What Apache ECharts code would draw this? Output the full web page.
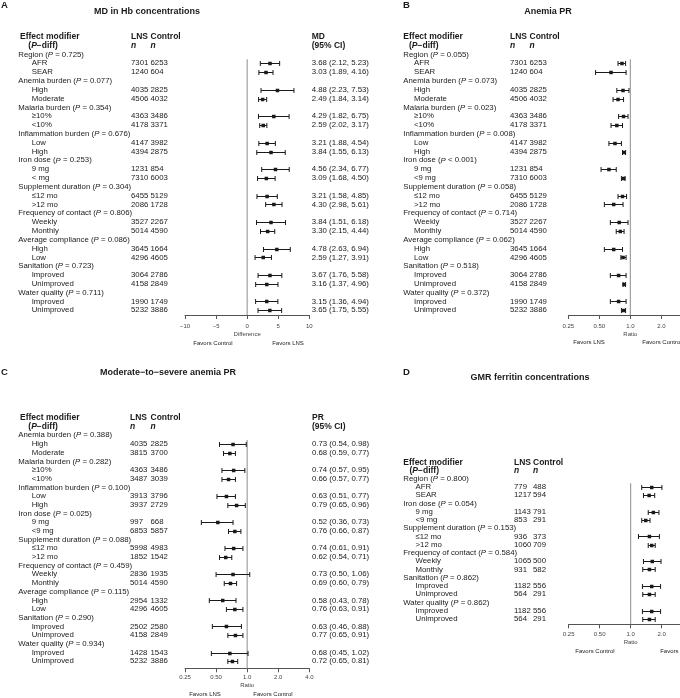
<!DOCTYPE html>
<html>
<head>
<meta charset="utf-8">
<script src="https://cdn.jsdelivr.net/npm/echarts@6/dist/echarts.min.js"></script>
<style>
  html, body { margin: 0; padding: 0; background: #fff; }
  #main { width: 680px; height: 698px; }
</style>
</head>
<body>
<div id="main"></div>
<script>
// ---------- data ----------
// A: MD in Hb concentrations
const aGroups = ['Region', 'Anemia burden', 'Malaria burden', 'Inflammation burden', 'Iron dose', 'Supplement duration', 'Frequency of contact', 'Average compliance', 'Sanitation', 'Water quality'];
const aPvals = ['= 0.725', '= 0.077', '= 0.354', '= 0.676', '= 0.253', '= 0.304', '= 0.806', '= 0.086', '= 0.723', '= 0.711'];
const aSubs = ['AFR', 'SEAR', 'High', 'Moderate', '≥10%', '<10%', 'Low', 'High', '9 mg', '< mg', '≤12 mo', '>12 mo', 'Weekly', 'Monthly', 'High', 'Low', 'Improved', 'Unimproved', 'Improved', 'Unimproved'];
const aLns = [7301, 1240, 4035, 4506, 4363, 4178, 4147, 4394, 1231, 7310, 6455, 2086, 3527, 5014, 3645, 4296, 3064, 4158, 1990, 5232];
const aCtrl = [6253, 604, 2825, 4032, 3486, 3371, 3982, 2875, 854, 6003, 5129, 1728, 2267, 4590, 1664, 4605, 2786, 2849, 1749, 3886];
const aEst = [3.68, 3.03, 4.88, 2.49, 4.29, 2.59, 3.21, 3.84, 4.56, 3.09, 3.21, 4.30, 3.84, 3.30, 4.78, 2.59, 3.67, 3.16, 3.15, 3.65];
const aLo = [2.12, 1.89, 2.23, 1.84, 1.82, 2.02, 1.88, 1.55, 2.34, 1.68, 1.58, 2.98, 1.51, 2.15, 2.63, 1.27, 1.76, 1.37, 1.36, 1.75];
const aHi = [5.23, 4.16, 7.53, 3.14, 6.75, 3.17, 4.54, 6.13, 6.77, 4.50, 4.85, 5.61, 6.18, 4.44, 6.94, 3.91, 5.58, 4.96, 4.94, 5.55];

// B: Anemia PR
const bGroups = aGroups;
const bPvals = ['= 0.055', '= 0.073', '= 0.023', '= 0.008', '< 0.001', '= 0.058', '= 0.714', '= 0.062', '= 0.518', '= 0.372'];
const bSubs = ['AFR', 'SEAR', 'High', 'Moderate', '≥10%', '<10%', 'Low', 'High', '9 mg', '<9 mg', '≤12 mo', '>12 mo', 'Weekly', 'Monthly', 'High', 'Low', 'Improved', 'Unimproved', 'Improved', 'Unimproved'];
const bLns = [7301, 1240, 4035, 4506, 4363, 4178, 4147, 4394, 1231, 7310, 6455, 2086, 3527, 5014, 3645, 4296, 3064, 4158, 1990, 5232];
const bCtrl = [6253, 604, 2825, 4032, 3486, 3371, 3982, 2875, 854, 6003, 5129, 1728, 2267, 4590, 1664, 4605, 2786, 2849, 1749, 3886];
const bEst = [0.83, 0.65, 0.85, 0.76, 0.86, 0.74, 0.71, 0.87, 0.62, 0.86, 0.84, 0.69, 0.78, 0.80, 0.69, 0.85, 0.77, 0.87, 0.77, 0.86];
const bLo = [0.76, 0.46, 0.74, 0.68, 0.77, 0.65, 0.62, 0.84, 0.52, 0.82, 0.76, 0.56, 0.64, 0.73, 0.56, 0.81, 0.64, 0.85, 0.64, 0.82];
const bHi = [0.90, 0.91, 0.97, 0.86, 0.95, 0.84, 0.82, 0.90, 0.73, 0.89, 0.92, 0.85, 0.95, 0.87, 0.84, 0.91, 0.91, 0.90, 0.91, 0.90];

// C: Moderate-to-severe anemia PR
const cGroups = ['Anemia burden', 'Malaria burden', 'Inflammation burden', 'Iron dose', 'Supplement duration', 'Frequency of contact', 'Average compliance', 'Sanitation', 'Water quality'];
const cPvals = ['= 0.388', '= 0.282', '= 0.100', '= 0.025', '= 0.088', '= 0.459', '= 0.115', '= 0.290', '= 0.934'];
const cSubs = ['High', 'Moderate', '≥10%', '<10%', 'Low', 'High', '9 mg', '<9 mg', '≤12 mo', '>12 mo', 'Weekly', 'Monthly', 'High', 'Low', 'Improved', 'Unimproved', 'Improved', 'Unimproved'];
const cLns = [4035, 3815, 4363, 3487, 3913, 3937, 997, 6853, 5998, 1852, 2836, 5014, 2954, 4296, 2502, 4158, 1428, 5232];
const cCtrl = [2825, 3700, 3486, 3039, 3796, 2729, 668, 5857, 4983, 1542, 1935, 4590, 1332, 4605, 2580, 2849, 1543, 3886];
const cEst = [0.73, 0.68, 0.74, 0.66, 0.63, 0.79, 0.52, 0.76, 0.74, 0.62, 0.73, 0.69, 0.58, 0.76, 0.63, 0.77, 0.68, 0.72];
const cLo = [0.54, 0.59, 0.57, 0.57, 0.51, 0.65, 0.36, 0.66, 0.61, 0.54, 0.50, 0.60, 0.43, 0.63, 0.46, 0.65, 0.45, 0.65];
const cHi = [0.98, 0.77, 0.95, 0.77, 0.77, 0.96, 0.73, 0.87, 0.91, 0.71, 1.06, 0.79, 0.78, 0.91, 0.88, 0.91, 1.02, 0.81];

// D: GMR ferritin concentrations
const dGroups = ['Region', 'Iron dose', 'Supplement duration', 'Frequency of contact', 'Sanitation', 'Water quality'];
const dPvals = ['= 0.800', '= 0.054', '= 0.153', '= 0.584', '= 0.862', '= 0.862'];
const dSubs = ['AFR', 'SEAR', '9 mg', '<9 mg', '≤12 mo', '>12 mo', 'Weekly', 'Monthly', 'Improved', 'Unimproved', 'Improved', 'Unimproved'];
const dLns = [779, 1217, 1143, 853, 936, 1060, 1065, 931, 1182, 564, 1182, 564];
const dCtrl = [488, 594, 791, 291, 373, 709, 500, 582, 556, 291, 556, 291];
const dEst = [1.60, 1.51, 1.66, 1.40, 1.52, 1.60, 1.62, 1.52, 1.60, 1.52, 1.60, 1.52];
const dLo = [1.28, 1.33, 1.48, 1.28, 1.19, 1.48, 1.33, 1.31, 1.30, 1.31, 1.30, 1.31];
const dHi = [2.01, 1.71, 1.88, 1.54, 1.90, 1.73, 1.97, 1.73, 1.95, 1.73, 1.95, 1.73];

// axis ticks
const diffTicks = [-10, -5, 0, 5, 10];
const ratioTicks = [0.25, 0.5, 1, 2, 4];
const ratioTickLabels = ['0.25', '0.50', '1.0', '2.0', '4.0'];

// ---------- style ----------
const FONT = '"Liberation Sans", Arial, Helvetica, sans-serif';
const INK = '#1a1a1a';
const RICH = {
  i: {fontStyle: 'italic', fontSize: 7.8, fontFamily: FONT, fill: INK},
  bi: {fontStyle: 'italic', fontWeight: 'bold', fontSize: 8.5, fontFamily: FONT, fill: INK}
};

// 每个面板的位置
const lay = {
  A: {rowTop: 54.5, step: 8.82, axisY: 315, left: 185, width: 124.3, labX: 18.3, subX: 31.7, headX: 20, pdX: 28.3, lnsX: 131, ctrlX: 150.5, ciX: 311.7, nameGap: 16, labMargin: 8},
  B: {rowTop: 54.5, step: 8.82, axisY: 315, left: 568.3, width: 124, labX: 403.3, subX: 414, headX: 403.3, pdX: 409, lnsX: 510, ctrlX: 529.5, ciX: null, nameGap: 16, labMargin: 8},
  C: {rowTop: 435.3, step: 8.69, axisY: 668.3, left: 185, width: 124.3, labX: 18.3, subX: 31.7, headX: 20, pdX: 28.3, lnsX: 130, ctrlX: 150.5, ciX: 312, nameGap: 14, labMargin: 6},
  D: {rowTop: 478.7, step: 8.25, axisY: 624.3, left: 568.7, width: 124, labX: 403.3, subX: 415.5, headX: 403.3, pdX: 409.5, lnsX: 514, ctrlX: 533, ciX: null, nameGap: 15, labMargin: 7}
};

const fmt = v => v.toFixed(2);

// 把分组数据拼成行
function buildRows(groups, pvals, subs, lns, ctrl, est, lo, hi) {
  const text = [], bars = [];
  let r = 0;
  groups.forEach((g, gi) => {
    text.push({row: r, kind: 'group', label: g + ' ({i|P} ' + pvals[gi] + ')'});
    r++;
    for (let k = 0; k < 2; k++) {
      const j = gi * 2 + k;
      text.push({row: r, kind: 'sub', label: subs[j], lns: String(lns[j]), ctrl: String(ctrl[j]),
        ci: fmt(est[j]) + ' (' + fmt(lo[j]) + ', ' + fmt(hi[j]) + ')'});
      bars.push([est[j], lo[j], hi[j], r]);
      r++;
    }
  });
  return {text, bars};
}

const panels = [
  {key: 'A', log: false, ref: 0, head: ['MD', '(95% CI)'], axisName: 'Difference',
    rows: buildRows(aGroups, aPvals, aSubs, aLns, aCtrl, aEst, aLo, aHi)},
  {key: 'B', log: true, ref: 1, head: ['PR', '(95% CI)'], axisName: 'Ratio',
    rows: buildRows(bGroups, bPvals, bSubs, bLns, bCtrl, bEst, bLo, bHi)},
  {key: 'C', log: true, ref: 1, head: ['PR', '(95% CI)'], axisName: 'Ratio',
    rows: buildRows(cGroups, cPvals, cSubs, cLns, cCtrl, cEst, cLo, cHi)},
  {key: 'D', log: true, ref: 1, head: ['GMR', '(95% CI)'], axisName: 'Ratio',
    rows: buildRows(dGroups, dPvals, dSubs, dLns, dCtrl, dEst, dLo, dHi)}
];

function txtEl(x, y, text, font) {
  return {
    type: 'text',
    style: {x: x, y: y, text: text, font: font, fill: INK, align: 'left', verticalAlign: 'middle', rich: RICH}
  };
}

const rowFont = 'normal 7.8px ' + FONT;
const headFont = 'bold 8.5px ' + FONT;

const grid = [], xAxis = [], yAxis = [], series = [];

panels.forEach((p, pi) => {
  const L = lay[p.key];
  const top = L.rowTop - 2.5 * L.step;
  const yMax = (L.axisY - L.rowTop) / L.step;
  grid.push({left: L.left, width: L.width, top: top, height: L.axisY - top, outerBoundsMode: 'none', containLabel: false});

  const xa = {
    gridIndex: pi,
    type: p.log ? 'log' : 'value',
    min: p.log ? ratioTicks[0] : diffTicks[0],
    max: p.log ? ratioTicks[ratioTicks.length - 1] : diffTicks[diffTicks.length - 1],
    axisLine: {show: true, onZero: false, lineStyle: {color: '#555', width: 1}},
    axisTick: {show: true, length: 4, lineStyle: {color: '#555'}},
    splitLine: {show: false},
    axisLabel: {
      fontSize: 6, fontFamily: FONT, color: '#444', margin: L.labMargin,
      formatter: v => {
        if (p.log) {
          const idx = ratioTicks.findIndex(t => Math.abs(t - v) < 1e-6);
          return idx >= 0 ? ratioTickLabels[idx] : '';
        }
        return v < 0 ? '\u2212' + Math.abs(v) : String(v);
      }
    },
    name: p.axisName, nameLocation: 'middle', nameGap: L.nameGap,
    nameTextStyle: {fontSize: 6, fontFamily: FONT, color: '#444'}
  };
  if (p.log) { xa.logBase = 2; } else { xa.interval = 5; }
  xAxis.push(xa);
  yAxis.push({gridIndex: pi, type: 'value', inverse: true, min: -2.5, max: yMax, show: false});

  // 参考线
  series.push({
    type: 'line', xAxisIndex: pi, yAxisIndex: pi, silent: true, symbol: 'none', z: 1,
    lineStyle: {color: '#8c8c8c', width: 1},
    data: [[p.ref, 0.55], [p.ref, yMax]]
  });

  // 置信区间 + 点
  series.push({
    type: 'custom', xAxisIndex: pi, yAxisIndex: pi, silent: true, z: 3,
    encode: {x: [0, 1, 2], y: 3},
    data: p.rows.bars,
    renderItem: (params, api) => {
      const row = api.value(3);
      const c = api.coord([api.value(0), row]);
      const l = api.coord([api.value(1), row]);
      const h = api.coord([api.value(2), row]);
      const y = Math.round(c[1]) + 0.5;
      const ls = {stroke: INK, lineWidth: 1};
      return {
        type: 'group',
        children: [
          {type: 'line', shape: {x1: l[0], y1: y, x2: h[0], y2: y}, style: ls},
          {type: 'line', shape: {x1: l[0], y1: y - 2.5, x2: l[0], y2: y + 2.5}, style: ls},
          {type: 'line', shape: {x1: h[0], y1: y - 2.5, x2: h[0], y2: y + 2.5}, style: ls},
          {type: 'rect', shape: {x: c[0] - 1.75, y: y - 1.75, width: 3.5, height: 3.5}, style: {fill: INK}}
        ]
      };
    }
  });

  // 表格文字
  const textRows = [{row: -2, kind: 'head1'}, {row: -1, kind: 'head2'}].concat(p.rows.text);
  series.push({
    type: 'custom', xAxisIndex: pi, yAxisIndex: pi, silent: true, z: 4, clip: false,
    encode: {x: 0, y: 1},
    data: textRows.map(t => [p.ref, t.row]),
    renderItem: (params, api) => {
      const t = textRows[params.dataIndex];
      const y = api.coord([p.ref, t.row])[1];
      const kids = [];
      if (t.kind === 'head1') {
        kids.push(txtEl(L.headX, y, 'Effect modifier', headFont));
        kids.push(txtEl(L.lnsX, y, 'LNS', headFont));
        kids.push(txtEl(L.ctrlX, y, 'Control', headFont));
        if (L.ciX) kids.push(txtEl(L.ciX, y, p.head[0], headFont));
      } else if (t.kind === 'head2') {
        kids.push(txtEl(L.pdX, y, '({bi|P}\u2212diff)', headFont));
        kids.push(txtEl(L.lnsX, y, '{bi|n}', headFont));
        kids.push(txtEl(L.ctrlX, y, '{bi|n}', headFont));
        if (L.ciX) kids.push(txtEl(L.ciX, y, p.head[1], headFont));
      } else if (t.kind === 'group') {
        kids.push(txtEl(L.labX, y, t.label, rowFont));
      } else {
        kids.push(txtEl(L.subX, y, t.label, rowFont));
        kids.push(txtEl(L.lnsX, y, t.lns, rowFont));
        kids.push(txtEl(L.ctrlX, y, t.ctrl, rowFont));
        if (L.ciX) kids.push(txtEl(L.ciX, y, t.ci, rowFont));
      }
      return {type: 'group', children: kids};
    }
  });
});

function gText(x, y, text, font, align) {
  return {
    type: 'text', silent: true,
    style: {x: x, y: y, text: text, font: font, fill: INK, align: align || 'center', verticalAlign: 'middle',
      textAlign: align || 'center', textVerticalAlign: 'middle'}
  };
}

const titleFont = 'bold 9px ' + FONT;
const letterFont = 'bold 9.5px ' + FONT;
const smallFont = 'normal 6px ' + FONT;

const graphic = [
  gText(1, 5, 'A', letterFont, 'left'),
  gText(147, 12, 'MD in Hb concentrations', titleFont),
  gText(403, 5, 'B', letterFont, 'left'),
  gText(548, 12, 'Anemia PR', titleFont),
  gText(1, 372, 'C', letterFont, 'left'),
  gText(168, 373, 'Moderate\u2212to\u2212severe anemia PR', titleFont),
  gText(403, 372, 'D', letterFont, 'left'),
  gText(530, 378, 'GMR ferritin concentrations', titleFont),
  gText(213, 343, 'Favors Control', smallFont),
  gText(288, 343, 'Favors LNS', smallFont),
  gText(589, 342, 'Favors LNS', smallFont),
  gText(662, 342, 'Favors Control', smallFont),
  gText(205, 694, 'Favors LNS', smallFont),
  gText(273, 694, 'Favors Control', smallFont),
  gText(595, 651.7, 'Favors Control', smallFont),
  gText(676, 651.7, 'Favors LNS', smallFont)
];

const chart = echarts.init(document.getElementById('main'), null, {renderer: 'canvas'});
chart.setOption({
  animation: false,
  backgroundColor: '#fff',
  textStyle: {fontFamily: FONT},
  grid: grid,
  xAxis: xAxis,
  yAxis: yAxis,
  series: series,
  graphic: graphic
});
</script>
</body>
</html>
